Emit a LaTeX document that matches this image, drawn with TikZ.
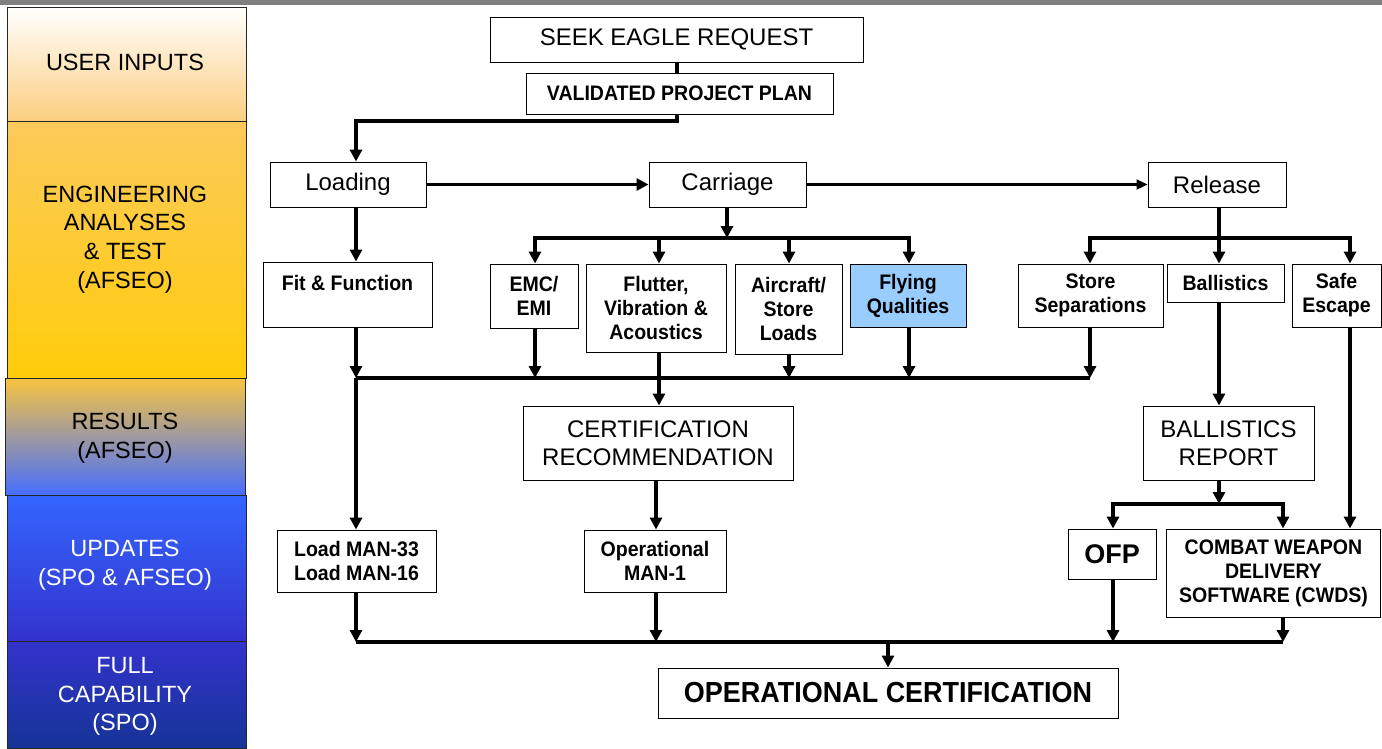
\documentclass[tikz,border=0pt]{standalone}
\usepackage{fontspec}
\setmainfont{Liberation Sans}
\newfontfamily\narrowfont[FakeStretch=0.93]{Liberation Sans}
\usetikzlibrary{arrows.meta}
\definecolor{fqblue}{RGB}{153,204,255}
\definecolor{topbar}{RGB}{128,128,128}
\definecolor{bOneBot}{RGB}{252,206,128}
\definecolor{bTwoTop}{RGB}{252,202,90}
\definecolor{bTwoBot}{RGB}{255,204,10}
\definecolor{bThreeTop}{RGB}{248,196,64}
\definecolor{bThreeMid}{RGB}{200,170,175}
\definecolor{bThreeBot}{RGB}{70,110,255}
\definecolor{bFourTop}{RGB}{51,102,255}
\definecolor{bFourBot}{RGB}{51,51,204}
\definecolor{bFiveBot}{RGB}{22,52,150}
\tikzset{
  box/.style={draw, fill=white, line width=1pt, inner sep=0pt, align=center},
  nb/.style={font=\narrowfont\bfseries\fontsize{21}{24}\selectfont},
  rg/.style={font=\fontsize{24}{28.5}\selectfont},
  bandtext/.style={font=\fontsize{23.5}{28.7}\selectfont, align=center, inner sep=0pt},
  bandbox/.style={draw=black!85, line width=1pt, minimum width=239pt, inner sep=0pt},
  arr/.style={line width=3.5pt, -{Triangle[length=12pt,width=12pt]}},
  ln/.style={line width=3.5pt},
}
\begin{document}
\begin{tikzpicture}[x=1pt,y=-1pt]
\useasboundingbox (0,0) rectangle (1382,748);
\fill[white] (0,0) rectangle (1382,748);
\fill[topbar] (0,0) rectangle (1382,4.5);

% left bands
\node[bandbox, top color=white, bottom color=bOneBot, minimum height=114pt] (b1) at (126.5,64) {};
\node[bandbox, top color=bTwoTop, bottom color=bTwoBot, minimum height=257pt] (b2) at (126.5,249.5) {};
\node[bandbox, top color=bFourTop, bottom color=bFourBot, minimum height=146pt] (b4) at (126.5,568) {};
\node[bandbox, top color=bFourBot, bottom color=bFiveBot, minimum height=107pt] (b5) at (126.5,694.5) {};
\node[bandbox, top color=bThreeTop, middle color=bThreeMid, bottom color=bThreeBot, minimum height=117pt, minimum width=240pt] (b3) at (125,436.5) {};
\node[bandtext] (lb1) at (125,62) {USER INPUTS};
\node[bandtext] (lb2) at (125,239.5) {ENGINEERING\\ANALYSES\\\& TEST\\(AFSEO)};
\node[bandtext] (lb3) at (125,438.5) {RESULTS\\(AFSEO)};
\node[bandtext, text=white] (lb4) at (125,565.5) {UPDATES\\(SPO \& AFSEO)};
\node[bandtext, text=white] (lb5) at (125,696.5) {FULL\\CAPABILITY\\(SPO)};

% boxes
\node[box, rg, minimum width=373pt, minimum height=45pt] (seek) at (676.5,39.5) {SEEK EAGLE REQUEST};
\node[box, nb, minimum width=307pt, minimum height=41pt] (vpp) at (679.5,93.5) {VALIDATED PROJECT PLAN};
\node[box, rg, minimum width=156pt, minimum height=45pt] (loading) at (348,184.5) {Loading};
\node[box, rg, minimum width=157pt, minimum height=45pt] (carriage) at (727.5,184.5) {Carriage};
\node[box, rg, minimum width=138pt, minimum height=45pt] (release) at (1217,184.5) {Release};
\node[box, nb, minimum width=169pt, minimum height=65pt] (fit) at (347.5,294.5) {Fit \& Function\\\mbox{}};
\node[box, nb, minimum width=88pt, minimum height=64pt] (emc) at (534,296) {EMC/\\EMI};
\node[box, nb, minimum width=140pt, minimum height=88pt] (flutter) at (656,308) {Flutter,\\Vibration \&\\Acoustics};
\node[box, nb, minimum width=107pt, minimum height=90pt] (aircraft) at (788.5,309) {Aircraft/\\Store\\Loads};
\node[box, nb, fill=fqblue, minimum width=116pt, minimum height=63pt] (flying) at (908,295.5) {Flying\\Qualities};
\node[box, nb, minimum width=145pt, minimum height=63pt] (storesep) at (1090.5,295.5) {Store\\Separations};
\node[box, nb, minimum width=117pt, minimum height=38pt] (ballistics) at (1225.5,283) {Ballistics};
\node[box, nb, minimum width=89pt, minimum height=63pt] (safe) at (1336.5,295.5) {Safe\\Escape};
\node[box, rg, minimum width=270pt, minimum height=74pt] (cert) at (658,443) {CERTIFICATION\\RECOMMENDATION};
\node[box, rg, minimum width=171pt, minimum height=74pt] (brep) at (1228.5,443) {BALLISTICS\\REPORT};
\node[box, nb, minimum width=159pt, minimum height=62pt] (loadman) at (356.5,561) {Load MAN-33\\Load MAN-16};
\node[box, nb, minimum width=142pt, minimum height=62pt] (opman) at (655,561) {Operational\\MAN-1};
\node[box, font=\bfseries\fontsize{27}{30}\selectfont, minimum width=88pt, minimum height=50pt] (ofp) at (1112,554) {OFP};
\node[box, nb, minimum width=214pt, minimum height=88pt] (cwds) at (1273.5,573) {COMBAT WEAPON\\DELIVERY\\SOFTWARE (CWDS)};
\node[box, font=\narrowfont\bfseries\fontsize{29}{32}\selectfont, minimum width=460pt, minimum height=50pt] (opcert) at (888,693) {OPERATIONAL CERTIFICATION};

% column / row coordinates
\coordinate (xA) at (356,0);
\coordinate (xV) at (677,0);
\coordinate (xEMC) at (535,0);
\coordinate (xFL) at (659,0);
\coordinate (xCAR) at (727,0);
\coordinate (xAC) at (789,0);
\coordinate (xFQ) at (909,0);
\coordinate (xSS) at (1090,0);
\coordinate (xBAL) at (1219,0);
\coordinate (xSE) at (1350,0);
\coordinate (xOFP) at (1113,0);
\coordinate (xCW) at (1283,0);
\coordinate (xOC) at (888,0);
\coordinate (xOM) at (656,0);
\coordinate (yV) at (0,121);
\coordinate (yCB) at (0,238);
\coordinate (yRB) at (0,378);
\coordinate (yBB) at (0,504);
\coordinate (yFB) at (0,642);

% connectors
\draw[ln] (xV |- seek.south) -- (xV |- vpp.north);
\draw[arr] (xV |- vpp.south) -- (xV |- yV) -| (xA |- loading.north);
\draw[arr] (loading.east) -- (carriage.west);
\draw[line width=2.2pt, -{Triangle[length=11pt,width=10pt]}] (carriage.east) -- (release.west);
\draw[arr] (xA |- loading.south) -- (xA |- fit.north);
\draw[arr] (xCAR |- carriage.south) -- (xCAR |- yCB);
\draw[arr] (xCAR |- yCB) -| (xEMC |- emc.north);
\draw[arr] (xCAR |- yCB) -| (xFQ |- flying.north);
\draw[arr] (xFL |- yCB) -- (xFL |- flutter.north);
\draw[arr] (xAC |- yCB) -- (xAC |- aircraft.north);
\draw[arr] (xBAL |- release.south) -- (xBAL |- ballistics.north);
\draw[arr] (xBAL |- yCB) -| (xSS |- storesep.north);
\draw[arr] (xBAL |- yCB) -| (xSE |- safe.north);

\draw[ln] (xA |- yRB) -- (xSS |- yRB);
\draw[arr] (xA |- fit.south) -- (xA |- yRB);
\draw[arr] (xEMC |- emc.south) -- (xEMC |- yRB);
\draw[arr] (xAC |- aircraft.south) -- (xAC |- yRB);
\draw[arr] (xFQ |- flying.south) -- (xFQ |- yRB);
\draw[arr] (xSS |- storesep.south) -- (xSS |- yRB);
\draw[arr] (xFL |- flutter.south) -- (xFL |- cert.north);
\draw[arr] (xA |- yRB) -- (xA |- loadman.north);
\draw[arr] (xOM |- cert.south) -- (xOM |- opman.north);
\draw[arr] (xBAL |- ballistics.south) -- (xBAL |- brep.north);
\draw[arr] (xBAL |- brep.south) -- (xBAL |- yBB);
\draw[arr] (xBAL |- yBB) -| (xOFP |- ofp.north);
\draw[arr] (xBAL |- yBB) -| (xCW |- cwds.north);
\draw[arr] (xSE |- safe.south) -- (xSE |- cwds.north);

\draw[ln] (xA |- yFB) -- (xCW |- yFB);
\draw[arr] (xA |- loadman.south) -- (xA |- yFB);
\draw[arr] (xOM |- opman.south) -- (xOM |- yFB);
\draw[arr] (xOFP |- ofp.south) -- (xOFP |- yFB);
\draw[arr] (xCW |- cwds.south) -- (xCW |- yFB);
\draw[arr] (xOC |- yFB) -- (xOC |- opcert.north);
\end{tikzpicture}
\end{document}
